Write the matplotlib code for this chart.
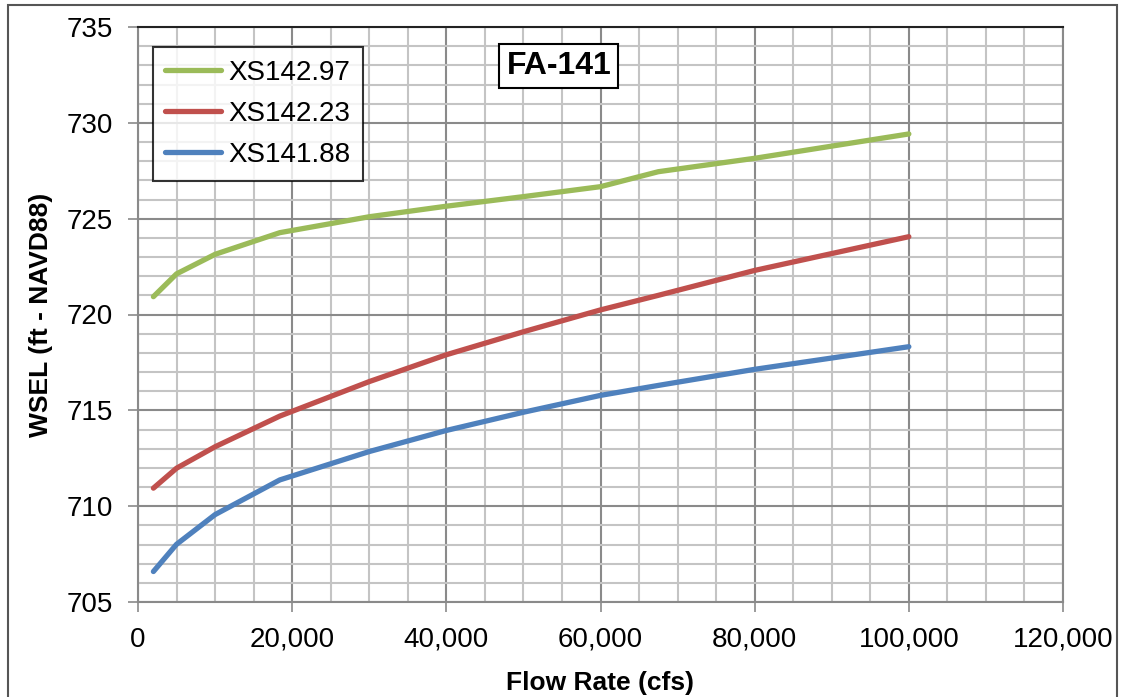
import numpy as np
import matplotlib
matplotlib.use("Agg")
import matplotlib.pyplot as plt
from matplotlib.ticker import MultipleLocator, FuncFormatter
from matplotlib.patches import Rectangle

plt.rcParams['font.family'] = ['Liberation Sans', 'DejaVu Sans']

# data (flow in cfs, WSEL in ft)
flow = [2000, 5000, 10000, 18400, 30000, 40000, 50000, 60000, 67500, 80000, 100000]
xs142_97 = [720.93, 722.12, 723.14, 724.27, 725.10, 725.65, 726.15, 726.67, 727.45, 728.15, 729.42]
xs142_23 = [710.94, 711.98, 713.10, 714.70, 716.50, 717.90, 719.10, 720.24, 721.00, 722.30, 724.06]
xs141_88 = [706.59, 708.01, 709.56, 711.37, 712.85, 713.95, 714.90, 715.78, 716.30, 717.14, 718.32]

labels = ['XS142.97', 'XS142.23', 'XS141.88']
colors = ['#9BBB59', '#C0504D', '#4F81BD']

W, H = 1123, 697
fig = plt.figure(figsize=(W / 100, H / 100), dpi=100)
ax = fig.add_axes([138 / W, 1 - 602 / H, (1063 - 138) / W, (602 - 27) / H])

for y, lab, c in zip([xs142_97, xs142_23, xs141_88], labels, colors):
    ax.plot(flow, y, color=c, lw=3.8, label=lab, solid_capstyle='round', zorder=3)

ax.set_xlim(0, 120000)
ax.set_ylim(705, 735)
ax.xaxis.set_major_locator(MultipleLocator(20000))
ax.xaxis.set_minor_locator(MultipleLocator(5000))
ax.yaxis.set_major_locator(MultipleLocator(5))
ax.yaxis.set_minor_locator(MultipleLocator(1))
ax.xaxis.set_major_formatter(FuncFormatter(lambda v, p: f'{int(v):,}'))

ax.grid(which='major', color='#8a8a8a', lw=1.5, zorder=0)
ax.grid(which='minor', color='#c4c4c4', lw=1.5, zorder=0)
ax.set_axisbelow(True)

ax.tick_params(which='major', direction='out', length=7, width=1.2, color='#8a8a8a',
               labelsize=20, pad=11)
ax.tick_params(which='minor', length=0)
for s in ax.spines.values():
    s.set_color('#8a8a8a')
    s.set_linewidth(1.5)
ax.spines['top'].set_color('#222222')

ax.set_xlabel('Flow Rate (cfs)', fontsize=19, fontweight='bold', labelpad=13)
ax.set_ylabel('WSEL (ft - NAVD88)', fontsize=19, fontweight='bold', labelpad=10)

leg = ax.legend(loc='upper left', bbox_to_anchor=(0.0162, 0.965), fontsize=20,
                frameon=True, fancybox=False, edgecolor='black', handlelength=2.0,
                borderpad=0.45, labelspacing=0.55, handletextpad=0.25, borderaxespad=0)
leg.get_frame().set_linewidth(1.5)

ax.text(0.455, 0.932, 'FA-141', transform=ax.transAxes, fontsize=23, fontweight='bold',
        ha='center', va='center',
        bbox=dict(boxstyle='square,pad=0.22', fc='white', ec='black', lw=1.5))

# outer chart border
fig.patches.append(Rectangle((8 / W, -0.02), (1117 - 8) / W, 1.02 - 5 / H,
                             transform=fig.transFigure, fill=False, ec='#555555', lw=1.5))

fig.savefig('out.png', dpi=100)
